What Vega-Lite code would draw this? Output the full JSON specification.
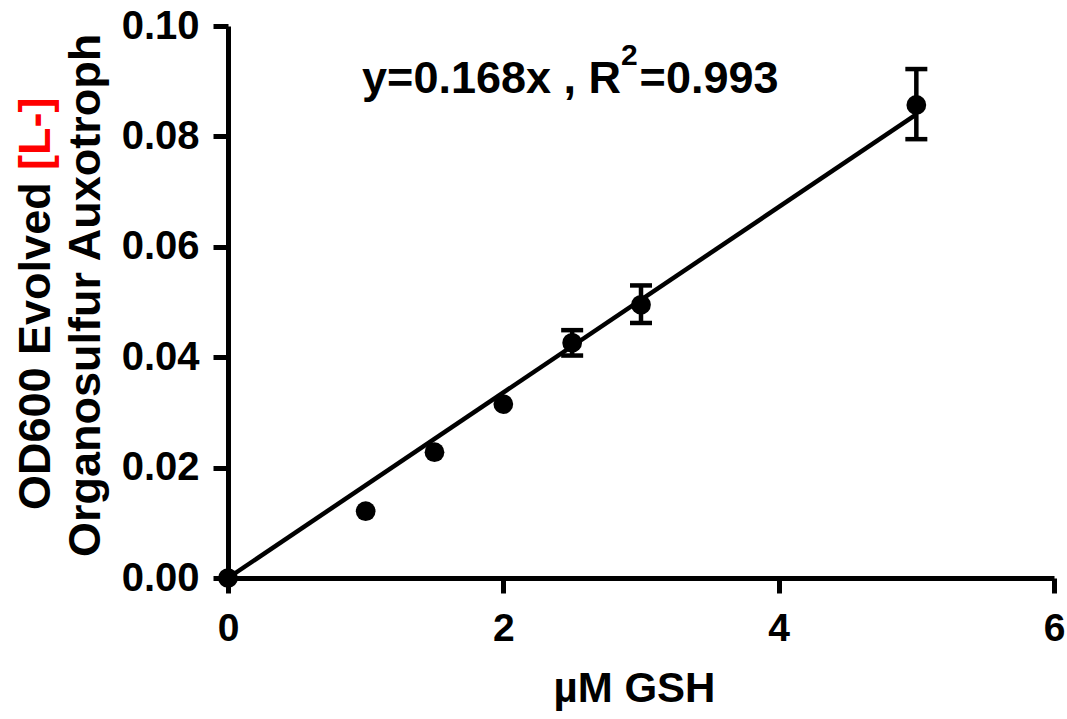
{
  "$schema": "https://vega.github.io/schema/vega-lite/v6.json",
  "width": 826,
  "height": 552,
  "autosize": "none",
  "padding": {"left": 228, "top": 26, "right": 13, "bottom": 141},
  "background": "white",
  "config": {
    "view": {"stroke": null},
    "font": "Liberation Sans",
    "axis": {
      "grid": false,
      "domainColor": "black",
      "domainWidth": 5,
      "tickColor": "black",
      "tickWidth": 5,
      "tickSize": 15,
      "labelFlush": false,
      "labelOverlap": false,
      "labelColor": "black",
      "labelFont": "Liberation Sans",
      "labelFontWeight": "bold",
      "labelFontSize": 40,
      "titleColor": "black",
      "titleFont": "Liberation Sans",
      "titleFontWeight": "bold"
    }
  },
  "datasets": {
    "points": [
      {"gsh": 0, "od": 0.0},
      {"gsh": 1, "od": 0.0121},
      {"gsh": 1.5, "od": 0.0228},
      {"gsh": 2, "od": 0.0315},
      {"gsh": 2.5, "od": 0.0426},
      {"gsh": 3, "od": 0.0495},
      {"gsh": 5, "od": 0.0857}
    ],
    "fit": [
      {"gsh": 0, "od": 0.0},
      {"gsh": 5, "od": 0.084}
    ],
    "errs": [
      {"gsh": 2.5, "lo": 0.0403, "hi": 0.0449},
      {"gsh": 3, "lo": 0.0462, "hi": 0.0530},
      {"gsh": 5, "lo": 0.0795, "hi": 0.0922}
    ]
  },
  "layer": [
    {
      "data": {"name": "fit"},
      "mark": {"type": "line", "color": "black", "strokeWidth": 4.5},
      "encoding": {
        "x": {
          "field": "gsh", "type": "quantitative",
          "scale": {"domain": [0, 6], "nice": false, "zero": false},
          "axis": {
            "values": [0, 2, 4, 6],
            "format": "d",
            "title": "µM GSH",
            "titleFontSize": 42,
            "titlePadding": 20,
            "titleX": 406,
            "labelPadding": 16,
            "labelFontSize": 39
          }
        },
        "y": {
          "field": "od", "type": "quantitative",
          "scale": {"domain": [0, 0.1], "nice": false},
          "axis": {
            "values": [0, 0.02, 0.04, 0.06, 0.08, 0.1],
            "format": ".2f",
            "title": null,
            "labelPadding": 14
          }
        }
      }
    },
    {
      "data": {"name": "errs"},
      "mark": {"type": "rule", "color": "black", "strokeWidth": 4.5},
      "encoding": {
        "x": {"field": "gsh", "type": "quantitative"},
        "y": {"field": "lo", "type": "quantitative"},
        "y2": {"field": "hi"}
      }
    },
    {
      "data": {"name": "errs"},
      "mark": {"type": "tick", "color": "black", "orient": "horizontal", "size": 22, "thickness": 4.5, "opacity": 1},
      "encoding": {
        "x": {"field": "gsh", "type": "quantitative"},
        "y": {"field": "lo", "type": "quantitative"}
      }
    },
    {
      "data": {"name": "errs"},
      "mark": {"type": "tick", "color": "black", "orient": "horizontal", "size": 22, "thickness": 4.5, "opacity": 1},
      "encoding": {
        "x": {"field": "gsh", "type": "quantitative"},
        "y": {"field": "hi", "type": "quantitative"}
      }
    },
    {
      "data": {"name": "points"},
      "mark": {"type": "circle", "color": "black", "opacity": 1, "size": 390},
      "encoding": {
        "x": {"field": "gsh", "type": "quantitative"},
        "y": {"field": "od", "type": "quantitative"}
      }
    },
    {
      "data": {"values": [{"t": "y=0.168x , R"}]},
      "mark": {"type": "text", "font": "Liberation Sans", "fontWeight": "bold", "fontSize": 45, "color": "black", "align": "right", "baseline": "alphabetic"},
      "encoding": {
        "x": {"datum": 2.855},
        "y": {"datum": 0.08786},
        "text": {"field": "t"}
      }
    },
    {
      "data": {"values": [{"t": "2"}]},
      "mark": {"type": "text", "font": "Liberation Sans", "fontWeight": "bold", "fontSize": 30, "color": "black", "align": "left", "baseline": "alphabetic"},
      "encoding": {
        "x": {"datum": 2.855},
        "y": {"datum": 0.09293},
        "text": {"field": "t"}
      }
    },
    {
      "data": {"values": [{"t": "=0.993"}]},
      "mark": {"type": "text", "font": "Liberation Sans", "fontWeight": "bold", "fontSize": 45, "color": "black", "align": "left", "baseline": "alphabetic"},
      "encoding": {
        "x": {"datum": 2.99},
        "y": {"datum": 0.08786},
        "text": {"field": "t"}
      }
    },
    {
      "data": {"values": [{"t": "OD600 Evolved"}]},
      "mark": {"type": "text", "font": "Liberation Sans", "fontWeight": "bold", "fontSize": 45, "color": "black", "align": "left", "baseline": "alphabetic", "angle": 270, "dx": 68, "dy": -178},
      "encoding": {
        "x": {"datum": 0},
        "y": {"datum": 0},
        "text": {"field": "t"}
      }
    },
    {
      "data": {"values": [{"t": "[L-]"}]},
      "mark": {"type": "text", "font": "Liberation Sans", "fontWeight": "bold", "fontSize": 45, "color": "#ff0000", "align": "left", "baseline": "alphabetic", "angle": 270, "dx": 408, "dy": -178},
      "encoding": {
        "x": {"datum": 0},
        "y": {"datum": 0},
        "text": {"field": "t"}
      }
    },
    {
      "data": {"values": [{"t": "Organosulfur Auxotroph"}]},
      "mark": {"type": "text", "font": "Liberation Sans", "fontWeight": "bold", "fontSize": 45, "color": "black", "align": "left", "baseline": "alphabetic", "angle": 270, "dx": 21, "dy": -128},
      "encoding": {
        "x": {"datum": 0},
        "y": {"datum": 0},
        "text": {"field": "t"}
      }
    }
  ]
}
